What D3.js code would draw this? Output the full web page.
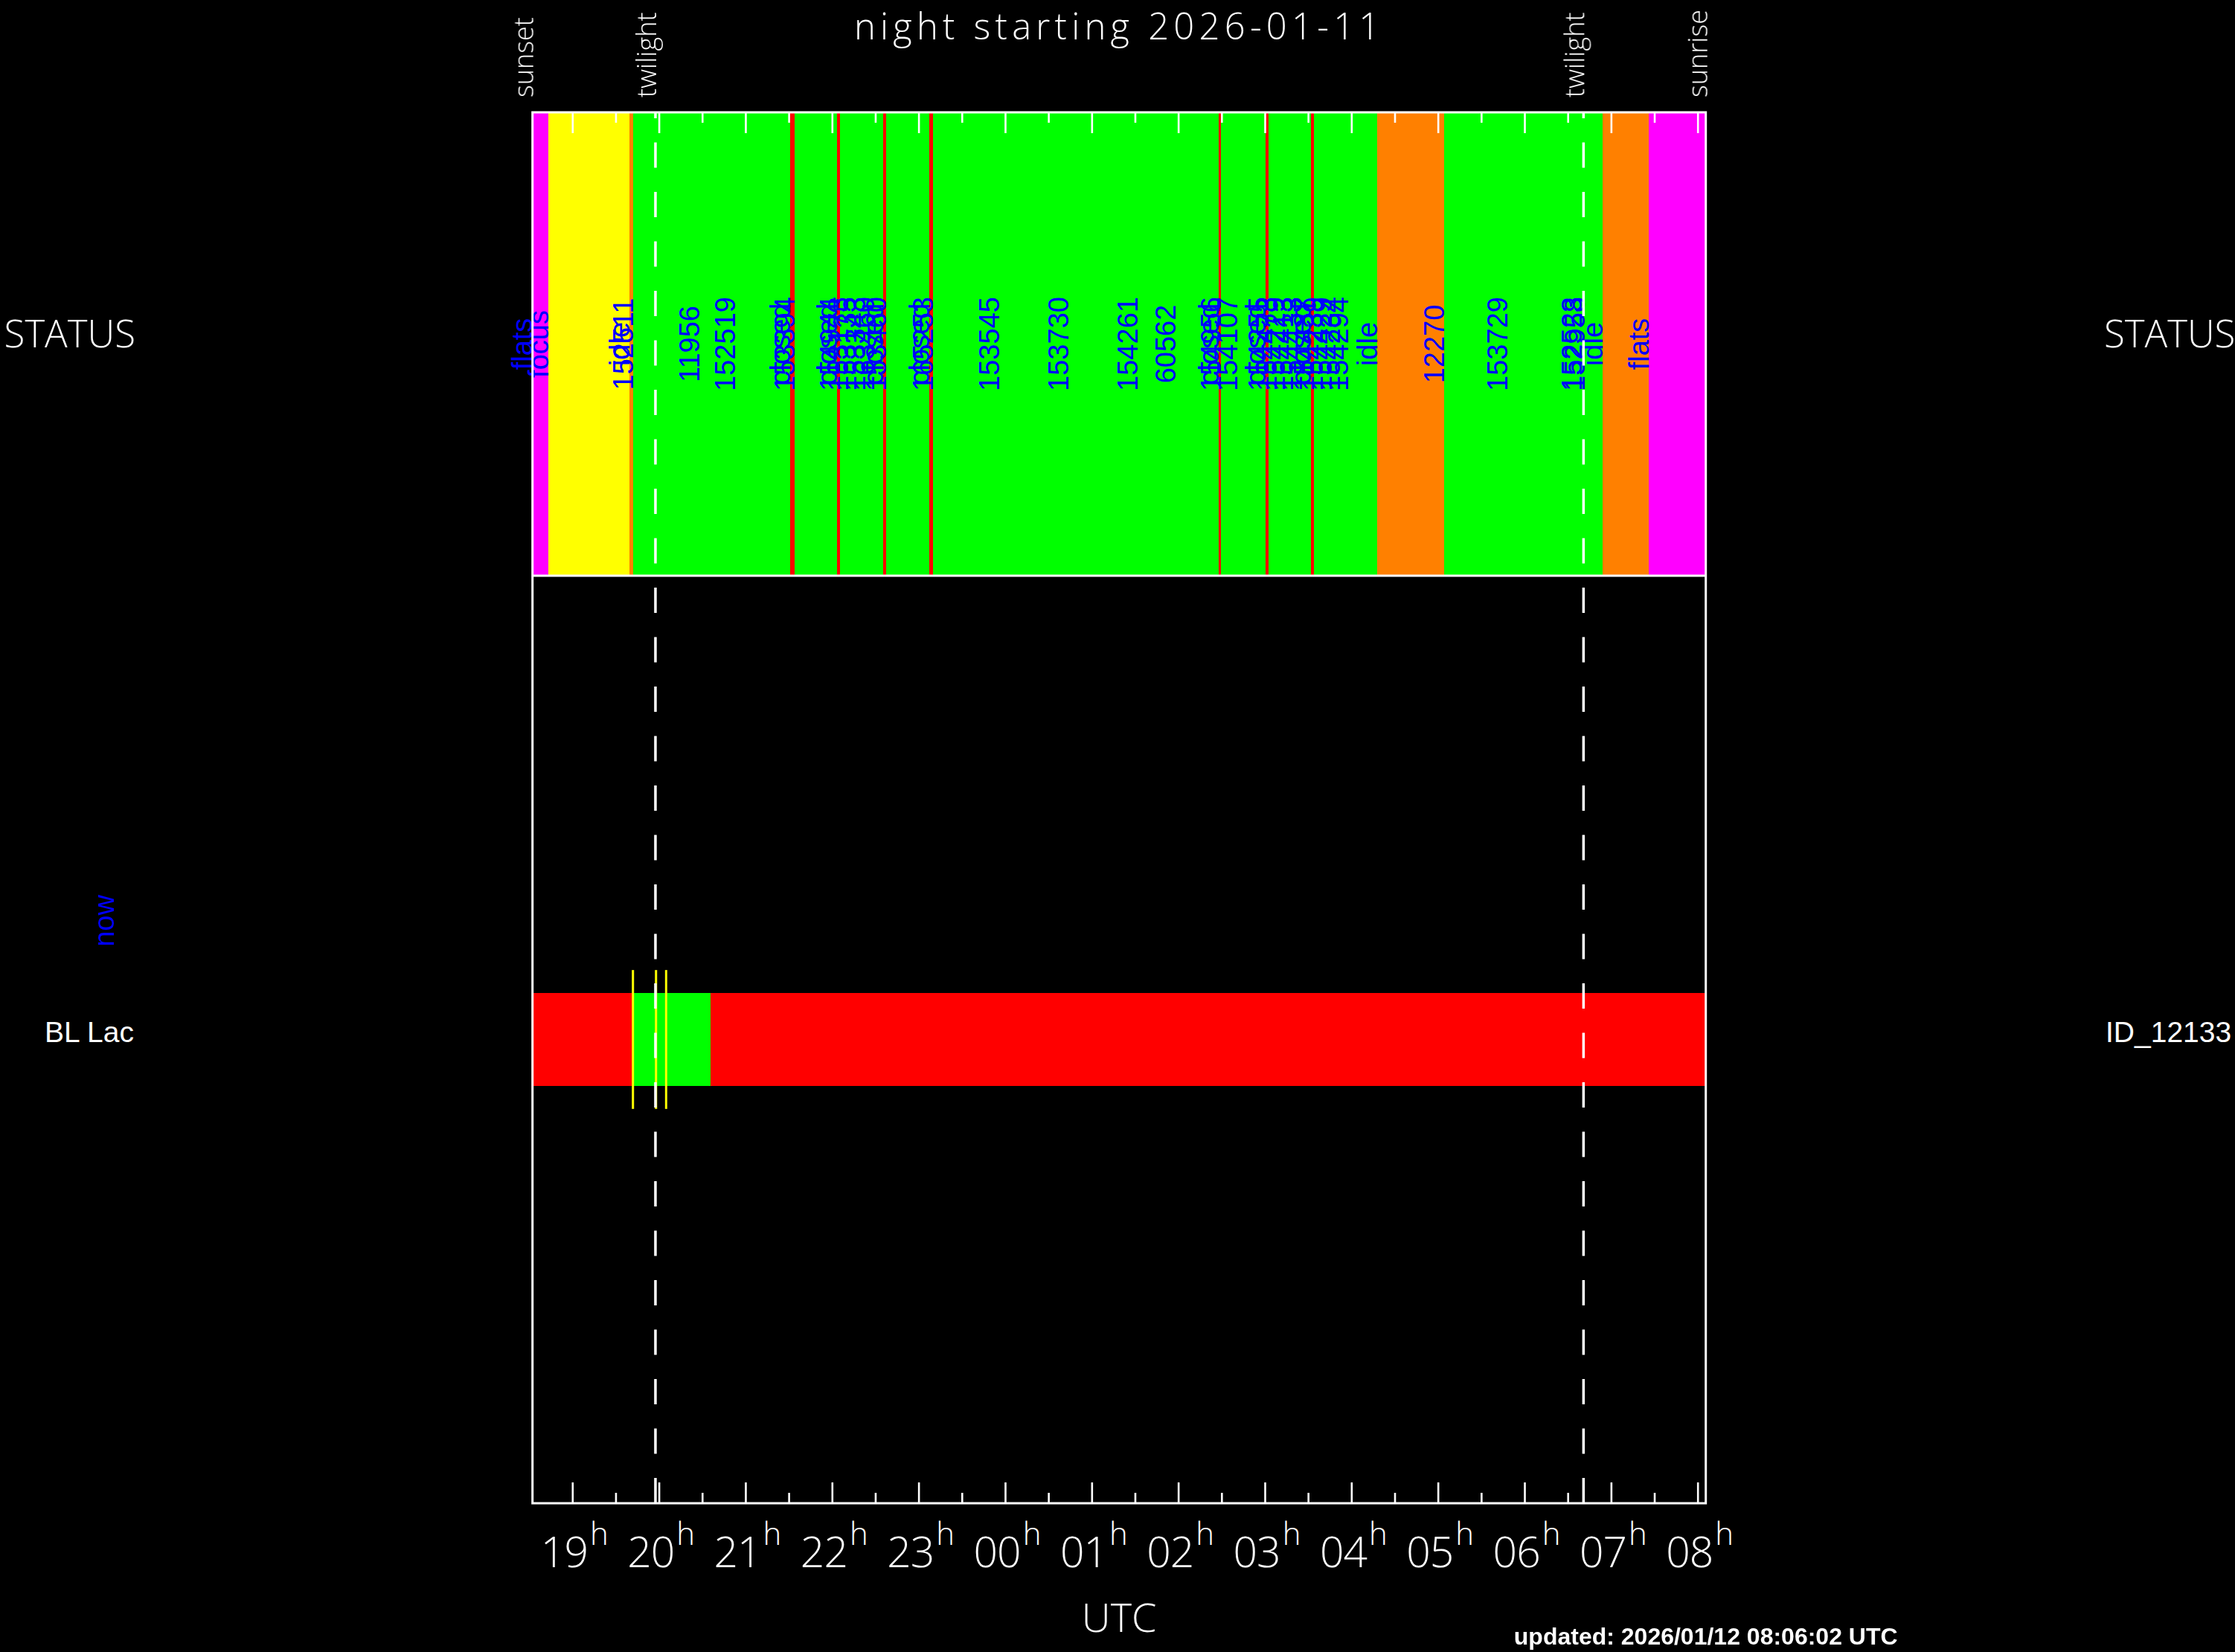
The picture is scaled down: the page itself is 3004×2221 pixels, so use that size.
<!DOCTYPE html>
<html><head><meta charset="utf-8">
<script src="https://cdn.jsdelivr.net/npm/d3@7"></script>
<style>html,body{margin:0;padding:0;background:#000;} svg{display:block} text{-webkit-font-smoothing:antialiased;}</style>
</head><body>
<svg id="chart" width="3004" height="2221"></svg>
<script>
// ---------------- data ----------------
const nightTitle = "night starting 2026-01-11";
const updatedText = "updated: 2026/01/12 08:06:02 UTC";
const sunsetTime = "18:32:22";
const sunriseTime = "08:05:40";
const twilightTimes = ["19:57:36", "06:40:55"];
const edgeLabels = ["sunset", "twilight", "twilight", "sunrise"];
const tickHours = ["19","20","21","22","23","00","01","02","03","04","05","06","07","08"];

const statusStarts = [
  "18:32","18:43:20","19:39:30","19:42","20:28","20:53",
  "21:31:10","21:33:50",
  "22:03:20","22:05:30","22:11","22:17","22:23","22:29","22:35:40","22:37:30",
  "23:07:25","23:09:50",
  "23:56","00:44","01:32","01:58",
  "02:27:50","02:29:40","02:41",
  "03:00:30","03:02:30","03:08:10","03:13:55","03:19:35","03:25:40","03:31:50","03:33:50","03:40:10","03:46:25","03:52:05","03:57:50",
  "04:18","05:04:20","05:48","06:39:45","06:41:50","06:54","07:26"
];
const statusLabels = [
  "flats","focus","idle","152511","11956","152519",
  "closed","153394",
  "closed","154944","153173","153135","153343","163460","closed","153460",
  "closed","165253",
  "153545","153730","154261","60562",
  "closed","154956","154107",
  "closed","154255","154473","154229","154413","154433","closed","154437","154239","154429","154234","154294",
  "idle","12270","153729","152523","152958","idle","flats"
];
const statusKinds = [
  "flats","focus","idle","obs","obs","obs",
  "closed","obs",
  "closed","obs","obs","obs","obs","obs","closed","obs",
  "closed","obs",
  "obs","obs","obs","obs",
  "closed","obs","obs",
  "closed","obs","obs","obs","obs","obs","closed","obs","obs","obs","obs","obs",
  "idle","obs","obs","obs","obs","idle","flats"
];

const targetNames = ["BL Lac"];
const targetIds = ["ID_12133"];
const windowStarts = ["18:32:22","19:42","20:36"];
const windowOk = [false, true, false];
const markerTimes = ["19:42","19:58","20:05"];
const nowLabel = "now";

// ---------------- helpers ----------------
function toDate(s){
  const p = s.split(":").map(Number);
  const h = p[0], m = p[1] || 0, sec = p[2] || 0;
  const day = h >= 12 ? 11 : 12;
  return new Date(Date.UTC(2026, 0, day, h, m, sec));
}
const kindColor = {flats:"#ff00ff", focus:"#ffff00", idle:"#ff8000", obs:"#00ff00", closed:"#ff0000"};

const W = 3004, H = 2221;
const L = 715.7, R = 2292.7;
const TOP = 151, MID = 774, BOT = 2021;
const thinFont = "'Open Sans','Liberation Sans',Arial,sans-serif";
const labFont = "'Liberation Sans',Arial,Helvetica,sans-serif";

const svg = d3.select("#chart");
svg.append("rect").attr("width", W).attr("height", H).attr("fill", "#000");

const t0 = toDate(sunsetTime), t1 = toDate(sunriseTime);
const x = d3.scaleUtc().domain([t0, t1]).range([L, R]);

// ---------------- status panel ----------------
const segs = statusStarts.map((s, i) => {
  const a = toDate(s);
  const b = i < statusStarts.length - 1 ? toDate(statusStarts[i+1]) : t1;
  return {a, b, label: statusLabels[i], kind: statusKinds[i]};
});
const gStatus = svg.append("g");
gStatus.selectAll("rect").data(segs).join("rect")
  .attr("shape-rendering", "crispEdges")
  .attr("x", d => Math.max(L, x(d.a)))
  .attr("y", TOP)
  .attr("width", d => Math.max(0, x(d.b) - Math.max(L, x(d.a))) + 0.6)
  .attr("height", MID - TOP)
  .attr("fill", d => kindColor[d.kind]);

const statusMidY = (TOP + MID) / 2;
gStatus.append("g").attr("opacity", 0.999).selectAll("text").data(segs).join("text")
  .attr("transform", d => `translate(${x(d.a)},${statusMidY}) rotate(-90)`)
  .attr("text-anchor", "middle")
  .attr("font-family", labFont)
  .attr("font-size", 38)
  .attr("fill", "#0000ff")
  .text(d => d.label);

// ---------------- target row ----------------
const yRow = d3.scaleBand().domain(targetNames).range([MID, BOT]).paddingInner(0).paddingOuter(4.5);
const wins = windowStarts.map((s, i) => ({
  a: toDate(s), b: i < windowStarts.length - 1 ? toDate(windowStarts[i+1]) : t1, ok: windowOk[i]
}));
const gRow = svg.append("g");
targetNames.forEach((name, ti) => {
  const y0 = yRow(name), bh = yRow.bandwidth();
  gRow.selectAll(null).data(wins).join("rect")
    .attr("shape-rendering", "crispEdges")
    .attr("x", d => x(d.a)).attr("y", y0)
    .attr("width", d => x(d.b) - x(d.a) + 0.6).attr("height", bh)
    .attr("fill", d => d.ok ? "#00ff00" : "#ff0000");
  gRow.selectAll(null).data(markerTimes).join("line")
    .attr("x1", d => x(toDate(d))).attr("x2", d => x(toDate(d)))
    .attr("y1", y0 - 31).attr("y2", y0 + bh + 31)
    .attr("stroke", "#ffff00").attr("stroke-width", 3);
  svg.append("text").attr("x", 180).attr("y", y0 + bh/2 + 3)
    .attr("text-anchor", "end").attr("font-family", labFont).attr("font-size", 39)
    .attr("fill", "#fff").text(name);
  svg.append("text").attr("x", 2830).attr("y", y0 + bh/2 + 3)
    .attr("text-anchor", "start").attr("font-family", labFont).attr("font-size", 39)
    .attr("fill", "#fff").text(targetIds[ti]);
});

// ---------------- twilight dashed lines ----------------
svg.append("g").selectAll("line").data(twilightTimes).join("line")
  .attr("x1", d => x(toDate(d))).attr("x2", d => x(toDate(d)))
  .attr("y1", BOT).attr("y2", TOP)
  .attr("stroke", "#fff").attr("stroke-width", 3.5)
  .attr("stroke-dasharray", "34 32.5");

// ---------------- axes ticks ----------------
const hourDates = tickHours.map(h => toDate(h + ":00"));
const halfDates = tickHours.map(h => toDate(h + ":30")).filter(d => d < t1);

function tickAxis(gen, y, vals, size){
  const g = svg.append("g").attr("transform", `translate(0,${y})`)
    .call(gen(x).tickValues(vals).tickSize(size).tickFormat(""));
  g.select(".domain").remove();
  g.selectAll(".tick line").attr("stroke", "#fff").attr("stroke-width", 2.6);
}
tickAxis(d3.axisBottom, BOT, hourDates, -28);
tickAxis(d3.axisBottom, BOT, halfDates, -14);
tickAxis(d3.axisTop, TOP, hourDates, -28);
tickAxis(d3.axisTop, TOP, halfDates, -14);

// ---------------- frame ----------------
const frame = svg.append("g").attr("stroke", "#fff").attr("stroke-width", 3).attr("fill", "none");
frame.append("rect").attr("x", L).attr("y", TOP).attr("width", R - L).attr("height", BOT - TOP);
frame.append("line").attr("x1", L).attr("x2", R).attr("y1", MID).attr("y2", MID);

// ---------------- tick labels ----------------
const gLab = svg.append("g").attr("opacity", 0.999);
hourDates.forEach((d, i) => {
  const g = gLab.append("g");
  const num = g.append("text").attr("x", 0).attr("y", 2107)
    .attr("font-family", thinFont).attr("font-weight", 300)
    .attr("font-size", 57).attr("letter-spacing", -1)
    .attr("fill", "#fff").text(tickHours[i]);
  const w1 = num.node().getComputedTextLength();
  const hh = g.append("text").attr("x", w1 + 3).attr("y", 2077)
    .attr("font-family", thinFont).attr("font-weight", 300)
    .attr("font-size", 42).attr("fill", "#fff").text("h");
  const w2 = hh.node().getComputedTextLength();
  g.attr("transform", `translate(${x(d) + 3 - (w1 + 3 + w2) / 2},0)`);
});

// ---------------- edge labels ----------------
const edgeTimes = [sunsetTime, twilightTimes[0], twilightTimes[1], sunriseTime];
svg.append("g").attr("opacity", 0.999).selectAll("text").data(edgeTimes).join("text")
  .attr("transform", d => `translate(${x(toDate(d)) + (d === sunriseTime ? 2 : 1)},131) rotate(-90)`)
  .attr("text-anchor", "start")
  .attr("font-family", thinFont).attr("font-weight", 300)
  .attr("font-size", 36).attr("fill", "#fff")
  .text((d, i) => edgeLabels[i]);

// ---------------- titles / side labels ----------------
const gTxt = svg.append("g").attr("opacity", 0.999);
gTxt.append("text").attr("x", (L + R) / 2).attr("y", 53)
  .attr("text-anchor", "middle").attr("font-family", thinFont).attr("font-weight", 300)
  .attr("font-size", 49).attr("letter-spacing", 6.2).attr("fill", "#fff").text(nightTitle);

gTxt.append("text").attr("x", 182).attr("y", 467)
  .attr("text-anchor", "end").attr("font-family", thinFont).attr("font-weight", 300)
  .attr("font-size", 51).attr("fill", "#fff").text("STATUS");
gTxt.append("text").attr("x", 2828).attr("y", 467)
  .attr("text-anchor", "start").attr("font-family", thinFont).attr("font-weight", 300)
  .attr("font-size", 51).attr("fill", "#fff").text("STATUS");

gTxt.append("text").attr("transform", "translate(153,1238) rotate(-90)")
  .attr("text-anchor", "middle").attr("font-family", labFont)
  .attr("font-size", 38).attr("fill", "#0000ff").text(nowLabel);

gTxt.append("text").attr("x", (L + R) / 2).attr("y", 2194)
  .attr("text-anchor", "middle").attr("font-family", thinFont).attr("font-weight", 300)
  .attr("font-size", 54).attr("fill", "#fff").text("UTC");

gTxt.append("text").attr("x", R).attr("y", 2211)
  .attr("text-anchor", "middle").attr("font-family", labFont).attr("font-weight", "bold")
  .attr("font-size", 32).attr("fill", "#fff").text(updatedText);
</script>
</body></html>
